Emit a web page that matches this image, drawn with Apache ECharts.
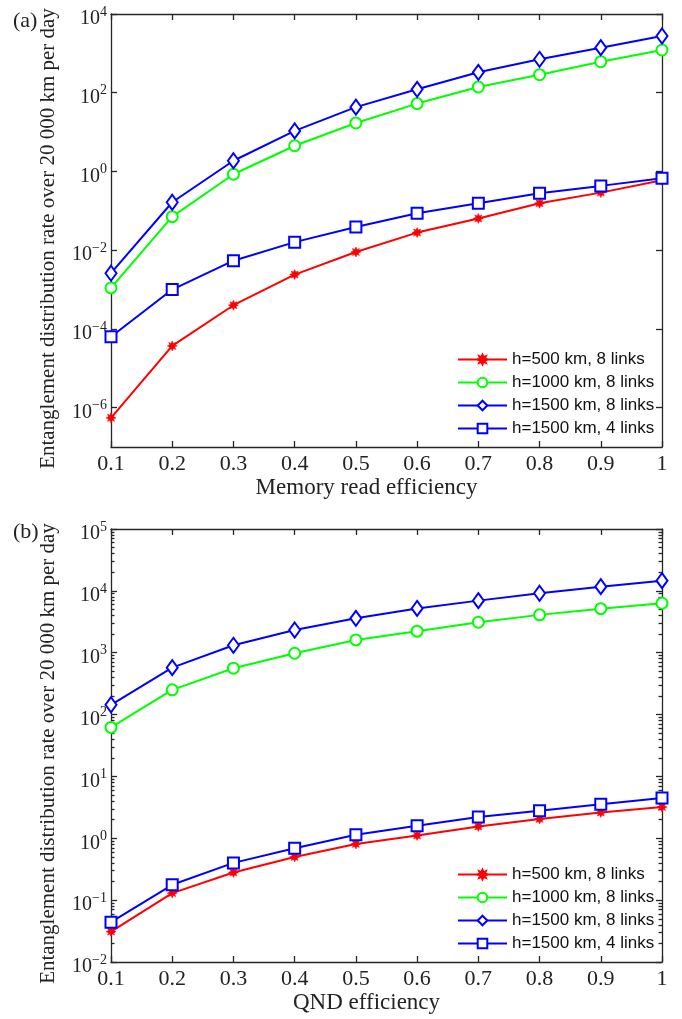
<!DOCTYPE html>
<html><head><meta charset="utf-8">
<script src="https://cdn.jsdelivr.net/npm/echarts@6/dist/echarts.min.js"></script>
<style>html,body{margin:0;padding:0;background:#fff}#c{width:682px;height:1019px}</style>
</head><body><div id="c"></div>
<script>
// ---------- data ----------
const xValues = [0.1, 0.2, 0.3, 0.4, 0.5, 0.6, 0.7, 0.8, 0.9, 1.0];
const seriesNames = ['h=500 km, 8 links', 'h=1000 km, 8 links', 'h=1500 km, 8 links', 'h=1500 km, 4 links'];

// (a) Memory read efficiency
const memH500L8  = [5.5e-7, 3.7e-5, 4.0e-4, 2.4e-3, 9.0e-3, 0.028, 0.064, 0.155, 0.29, 0.60];
const memH1000L8 = [1.1e-3, 0.071, 0.85, 4.5, 17, 53, 140, 287, 614, 1216];
const memH1500L8 = [2.6e-3, 0.165, 1.87, 10.7, 43, 122, 330, 707, 1393, 2760];
const memH1500L4 = [6.3e-5, 1.0e-3, 5.4e-3, 0.016, 0.039, 0.087, 0.155, 0.28, 0.43, 0.67];

// (b) QND efficiency
const qndH500L8  = [0.031, 0.13, 0.28, 0.50, 0.81, 1.11, 1.55, 2.05, 2.61, 3.2];
const qndH1000L8 = [62, 251, 562, 980, 1610, 2230, 3110, 4090, 5150, 6300];
const qndH1500L8 = [144, 574, 1318, 2330, 3600, 5200, 6950, 9150, 11700, 14600];
const qndH1500L4 = [0.044, 0.177, 0.40, 0.69, 1.14, 1.6, 2.2, 2.78, 3.56, 4.46];

// tick labels
const xTickLabels = ['0.1', '0.2', '0.3', '0.4', '0.5', '0.6', '0.7', '0.8', '0.9', '1'];
const memTickExps = [-6, -4, -2, 0, 2, 4];
const qndTickExps = [-2, -1, 0, 1, 2, 3, 4, 5];
const minorMults = [2, 3, 4, 5, 6, 7, 8, 9];

const yTitle = 'Entanglement distribution rate over 20 000 km per day';
const xTitleA = 'Memory read efficiency';
const xTitleB = 'QND efficiency';

// ---------- helpers ----------
const AX = '#262626';
const SERIF = 'Liberation Serif, Times New Roman, serif';
const SANS = 'Liberation Sans, Arial, sans-serif';
const memTickVals = memTickExps.map(e => Math.pow(10, e));
const qndTickVals = qndTickExps.map(e => Math.pow(10, e));
const qndMinorVals = [];
for (let e = -2; e < 5; e++) minorMults.forEach(m => qndMinorVals.push(m * Math.pow(10, e)));

function supLabel(v) {
  const e = Math.round(Math.log10(v));
  return '{b|10}{s|' + (e < 0 ? '\u2212' + (-e) : e) + '}';
}
const rich = {
  b: { fontFamily: SERIF, fontSize: 20, color: '#222', lineHeight: 24, padding: [3, 0, 0, 0], verticalAlign: 'bottom' },
  s: { fontFamily: SERIF, fontSize: 14, color: '#222', lineHeight: 14, verticalAlign: 'top' }
};
const lineStyle = { color: AX, width: 1.3 };

function xAx(grid, pos, name) {
  return {
    gridIndex: grid, type: 'value', position: pos, min: 0.1, max: 1, interval: 0.1,
    axisLine: { show: true, onZero: false, lineStyle },
    axisTick: { show: true, inside: true, length: 6, lineStyle },
    axisLabel: pos === 'bottom' ? {
      show: true, margin: 6, fontFamily: SERIF, fontSize: 22, color: '#222',
      formatter: v => xTickLabels[Math.round(v * 10) - 1]
    } : { show: false },
    splitLine: { show: false },
    name: name || '', nameLocation: 'middle', nameGap: 29,
    nameTextStyle: { fontFamily: SERIF, fontSize: 23, color: '#222', padding: [0, 40, 0, 0] }
  };
}
function yAx(grid, pos, min, max, ticks, withLabel, tickLen, named) {
  return {
    gridIndex: grid, type: 'log', logBase: 10, position: pos, min, max,
    axisLine: { show: tickLen === 6, onZero: false, lineStyle },
    axisTick: { show: true, inside: true, length: tickLen, customValues: ticks, lineStyle },
    axisLabel: withLabel ? {
      show: true, customValues: ticks, margin: 4, formatter: supLabel, rich, padding: [6, 0, 0, 0]
    } : { show: false },
    splitLine: { show: false },
    minorTick: { show: false },
    name: named ? yTitle : '', nameLocation: 'middle', nameGap: 52, nameRotate: 90,
    nameTextStyle: { fontFamily: SERIF, fontSize: 21, color: '#222', padding: [0, 16, 0, 0] }
  };
}

const starPath = 'path://M0,-6 L1.4,-3 L4.2,-4.2 L3,-1.4 L6,0 L3,1.4 L4.2,4.2 L1.4,3 L0,6 L-1.4,3 L-4.2,4.2 L-3,1.4 L-6,0 L-3,-1.4 L-4.2,-4.2 L-1.4,-3 Z';
const styles = [
  { color: '#ff0000', symbol: starPath, symbolSize: 10, filled: true },
  { color: '#00ff00', symbol: 'emptyCircle', symbolSize: 11 },
  { color: '#0000ff', symbol: 'emptyDiamond', symbolSize: [11, 15] },
  { color: '#0000ff', symbol: 'emptyRect', symbolSize: 11 }
];
function mkSeries(arr, idx, xi, yi) {
  const st = styles[idx];
  return {
    type: 'line', name: seriesNames[idx], xAxisIndex: xi, yAxisIndex: yi,
    data: xValues.map((x, i) => [x, arr[i]]),
    symbol: st.symbol, symbolSize: st.symbolSize, showAllSymbol: true,
    color: st.color,
    lineStyle: { color: st.color, width: 2 },
    itemStyle: { color: st.color, borderColor: st.color, borderWidth: st.filled ? 0.5 : 2 },
    emphasis: { disabled: true }, animation: false, z: 3
  };
}
function mkLegend(top) {
  return {
    orient: 'vertical', left: 452, top, itemWidth: 49, itemHeight: 12, itemGap: 6,
    textStyle: { fontFamily: SANS, fontSize: 17, color: '#111' },
    data: seriesNames, selectedMode: false
  };
}

const chart = echarts.init(document.getElementById('c'), null, { renderer: 'canvas' });
chart.setOption({
  animation: false,
  backgroundColor: '#fff',
  grid: [
    { left: 111, top: 14, width: 551, height: 433 },
    { left: 111, top: 529, width: 551, height: 433 }
  ],
  xAxis: [xAx(0, 'bottom', xTitleA), xAx(0, 'top'), xAx(1, 'bottom', xTitleB), xAx(1, 'top')],
  yAxis: [
    yAx(0, 'left', 1e-7, 1e4, memTickVals, true, 6, true),
    yAx(0, 'right', 1e-7, 1e4, memTickVals, false, 6, false),
    yAx(1, 'left', 1e-2, 1e5, qndTickVals, true, 6, true),
    yAx(1, 'right', 1e-2, 1e5, qndTickVals, false, 6, false),
    yAx(1, 'left', 1e-2, 1e5, qndMinorVals, false, 3.5, false),
    yAx(1, 'right', 1e-2, 1e5, qndMinorVals, false, 3.5, false)
  ],
  legend: [mkLegend(346), mkLegend(861)],
  graphic: [
    { type: 'text', left: 13, top: 10, style: { text: '(a)', fontFamily: SERIF, fontSize: 22, fill: '#222' } },
    { type: 'text', left: 13, top: 521, style: { text: '(b)', fontFamily: SERIF, fontSize: 22, fill: '#222' } }
  ],
  series: [
    mkSeries(memH500L8, 0, 0, 0), mkSeries(memH1000L8, 1, 0, 0), mkSeries(memH1500L8, 2, 0, 0), mkSeries(memH1500L4, 3, 0, 0),
    mkSeries(qndH500L8, 0, 2, 2), mkSeries(qndH1000L8, 1, 2, 2), mkSeries(qndH1500L8, 2, 2, 2), mkSeries(qndH1500L4, 3, 2, 2)
  ]
});
</script></body></html>
